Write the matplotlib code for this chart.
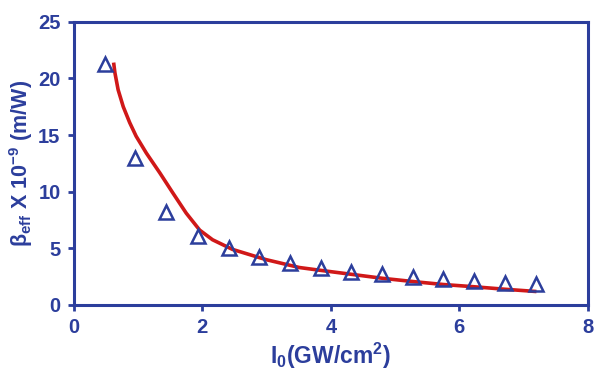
import matplotlib
matplotlib.use("Agg")
import matplotlib.pyplot as plt

# Measured data (triangles)
x_data = [0.48, 0.96, 1.44, 1.93, 2.41, 2.89, 3.37, 3.84, 4.32, 4.80, 5.28, 5.75, 6.23, 6.71, 7.19]
y_data = [21.3, 13.0, 8.2, 6.1, 5.0, 4.2, 3.7, 3.3, 2.9, 2.7, 2.5, 2.3, 2.1, 1.95, 1.85]

# Fit curve
x_fit = [0.62, 0.64, 0.69, 0.77, 0.87, 0.97, 1.13, 1.34, 1.54, 1.75, 1.96, 2.16, 2.47,
         2.99, 3.51, 3.84, 4.32, 4.80, 5.28, 5.75, 6.23, 6.71, 7.20]
y_fit = [21.4, 20.5, 19.0, 17.5, 16.1, 14.9, 13.4, 11.65, 9.9, 8.1, 6.6, 5.75, 4.9,
         4.0, 3.3, 3.05, 2.7, 2.35, 2.06, 1.8, 1.6, 1.38, 1.18]

x_ticks = [0, 2, 4, 6, 8]
y_ticks = [0, 5, 10, 15, 20, 25]

blue = "#2C3E9C"
red = "#D01818"

plt.rcParams['font.family'] = ['Liberation Sans', 'DejaVu Sans']
plt.rcParams['mathtext.fontset'] = 'custom'
plt.rcParams['mathtext.rm'] = 'Liberation Sans:bold'
plt.rcParams['mathtext.bf'] = 'Liberation Sans:bold'
plt.rcParams['mathtext.it'] = 'Liberation Sans:bold'
plt.rcParams['mathtext.default'] = 'bf'

fig = plt.figure(figsize=(5.95, 3.7), dpi=100)
ax = fig.add_axes([0.124, 0.176, 0.864, 0.765])

ax.plot(x_fit, y_fit, color=red, lw=2.6, zorder=2, solid_capstyle='butt', solid_joinstyle='round')
ax.plot(x_data, y_data, linestyle='none', marker='^', markersize=9.5,
        markerfacecolor='none', markeredgecolor=blue, markeredgewidth=1.8, zorder=3)

ax.set_xlim(0, 8)
ax.set_ylim(0, 25)
ax.set_xticks(x_ticks)
ax.set_yticks(y_ticks)

for s in ax.spines.values():
    s.set_color(blue)
    s.set_linewidth(2.2)

ax.tick_params(axis='both', direction='out', length=4.5, width=2, color=blue,
               labelcolor=blue, labelsize=14.5, pad=5)
ax.tick_params(top=False, right=False)
for lab in ax.get_xticklabels() + ax.get_yticklabels():
    lab.set_fontweight('bold')

ax.set_xlabel(r'I$_0$(GW/cm$^2$)', color=blue, fontsize=16.5, fontweight='bold', labelpad=3)
ax.set_ylabel(r'$\beta_{eff}$ X 10$^{-9}$ (m/W)', color=blue, fontsize=15.5, fontweight='bold', labelpad=2)

fig.savefig("out.png", dpi=100)
